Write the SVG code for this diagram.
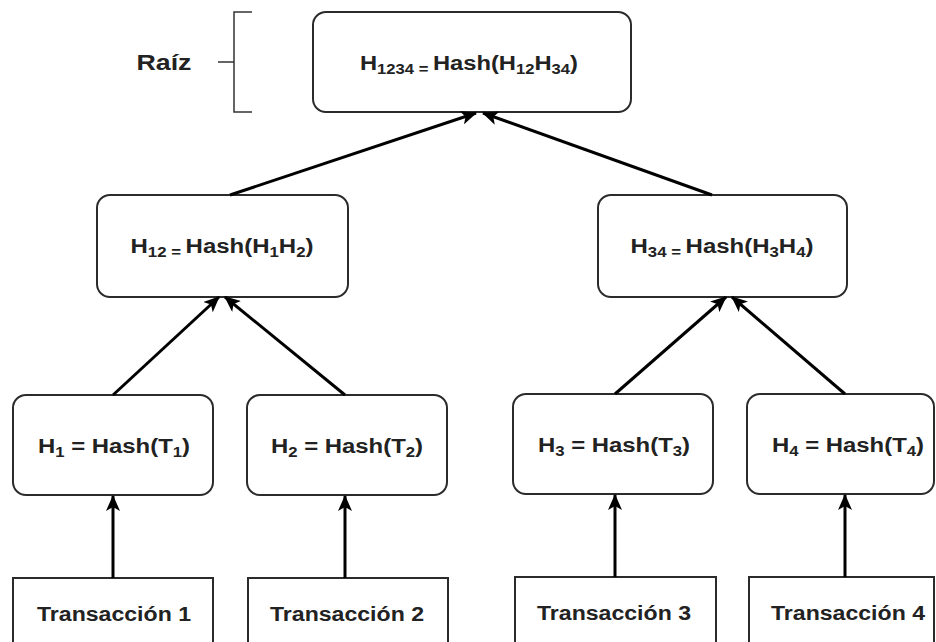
<svg xmlns="http://www.w3.org/2000/svg" width="936" height="642" viewBox="0 0 936 642">
<defs>
<style>
.box{fill:#fff;stroke:#2b2b2b;stroke-width:2}
.t{font-family:"Liberation Sans",Arial,sans-serif;font-weight:bold;font-size:20px;fill:#222;text-anchor:middle}
.s{font-size:14px}
.edge{stroke:#000;stroke-width:3;fill:none;marker-end:url(#ah)}
.br{stroke:#333;stroke-width:1.5;fill:none}
</style>
<marker id="ah" markerUnits="userSpaceOnUse" markerWidth="16" markerHeight="14" refX="15" refY="7" orient="auto">
<path d="M0,0 L16,7 L0,14 L4,7 Z" fill="#000"/>
</marker>
</defs>
<rect width="936" height="642" fill="#fff"/>
<g id="raiz-label">
<text class="t" x="164" y="70" style="font-size:22px" textLength="55" lengthAdjust="spacingAndGlyphs">Raíz</text>
<path class="br" d="M252,12 H234 V112 H252 M218,62 H234"/>
</g>
<g id="root">
<rect class="box" x="313" y="12" width="318" height="100" rx="13"/>
<text class="t" x="469" y="70" textLength="218" lengthAdjust="spacingAndGlyphs">H<tspan class="s" dy="4">1234 = </tspan><tspan dy="-4">Hash(H</tspan><tspan class="s" dy="4">12</tspan><tspan dy="-4">H</tspan><tspan class="s" dy="4">34</tspan><tspan dy="-4">)</tspan></text>
</g>
<g id="h12">
<rect class="box" x="97" y="195" width="251" height="102" rx="13"/>
<text class="t" x="222" y="253" textLength="183" lengthAdjust="spacingAndGlyphs">H<tspan class="s" dy="4">12 = </tspan><tspan dy="-4">Hash(H</tspan><tspan class="s" dy="4">1</tspan><tspan dy="-4">H</tspan><tspan class="s" dy="4">2</tspan><tspan dy="-4">)</tspan></text>
</g>
<g id="h34">
<rect class="box" x="598" y="195" width="249" height="102" rx="13"/>
<text class="t" x="722" y="253" textLength="183" lengthAdjust="spacingAndGlyphs">H<tspan class="s" dy="4">34 = </tspan><tspan dy="-4">Hash(H</tspan><tspan class="s" dy="4">3</tspan><tspan dy="-4">H</tspan><tspan class="s" dy="4">4</tspan><tspan dy="-4">)</tspan></text>
</g>
<g id="h1">
<rect class="box" x="13" y="395" width="200" height="100" rx="13"/>
<text class="t" x="114" y="453" textLength="152" lengthAdjust="spacingAndGlyphs">H<tspan class="s" dy="4">1</tspan><tspan dy="-4"> = Hash(T</tspan><tspan class="s" dy="4">1</tspan><tspan dy="-4">)</tspan></text>
</g>
<g id="h2">
<rect class="box" x="247" y="395" width="200" height="100" rx="13"/>
<text class="t" x="347" y="453" textLength="152" lengthAdjust="spacingAndGlyphs">H<tspan class="s" dy="4">2</tspan><tspan dy="-4"> = Hash(T</tspan><tspan class="s" dy="4">2</tspan><tspan dy="-4">)</tspan></text>
</g>
<g id="h3">
<rect class="box" x="513" y="394" width="200" height="100" rx="13"/>
<text class="t" x="614" y="452" textLength="152" lengthAdjust="spacingAndGlyphs">H<tspan class="s" dy="4">3</tspan><tspan dy="-4"> = Hash(T</tspan><tspan class="s" dy="4">3</tspan><tspan dy="-4">)</tspan></text>
</g>
<g id="h4">
<rect class="box" x="747" y="394" width="187" height="100" rx="13"/>
<text class="t" x="848" y="452" textLength="152" lengthAdjust="spacingAndGlyphs">H<tspan class="s" dy="4">4</tspan><tspan dy="-4"> = Hash(T</tspan><tspan class="s" dy="4">4</tspan><tspan dy="-4">)</tspan></text>
</g>
<g id="t1">
<rect class="box" x="13" y="578" width="200" height="80"/>
<text class="t" x="114" y="621" textLength="154" lengthAdjust="spacingAndGlyphs">Transacción 1</text>
</g>
<g id="t2">
<rect class="box" x="248" y="578" width="200" height="80"/>
<text class="t" x="347" y="621" textLength="154" lengthAdjust="spacingAndGlyphs">Transacción 2</text>
</g>
<g id="t3">
<rect class="box" x="515" y="577" width="201" height="80"/>
<text class="t" x="614" y="620" textLength="154" lengthAdjust="spacingAndGlyphs">Transacción 3</text>
</g>
<g id="t4">
<rect class="box" x="749" y="577" width="185" height="80"/>
<text class="t" x="848" y="620" textLength="154" lengthAdjust="spacingAndGlyphs">Transacción 4</text>
</g>
<g id="connectors">
<line class="edge" x1="230" y1="195" x2="476" y2="113"/>
<line class="edge" x1="712" y1="195" x2="483" y2="113"/>
<line class="edge" x1="113" y1="395" x2="219" y2="297"/>
<line class="edge" x1="345" y1="395" x2="225" y2="297"/>
<line class="edge" x1="615" y1="394" x2="726" y2="297"/>
<line class="edge" x1="845" y1="394" x2="732" y2="297"/>
<line class="edge" x1="113" y1="578" x2="113" y2="496"/>
<line class="edge" x1="345" y1="578" x2="345" y2="496"/>
<line class="edge" x1="615" y1="577" x2="615" y2="495"/>
<line class="edge" x1="845" y1="577" x2="845" y2="495"/>
</g>
</svg>
